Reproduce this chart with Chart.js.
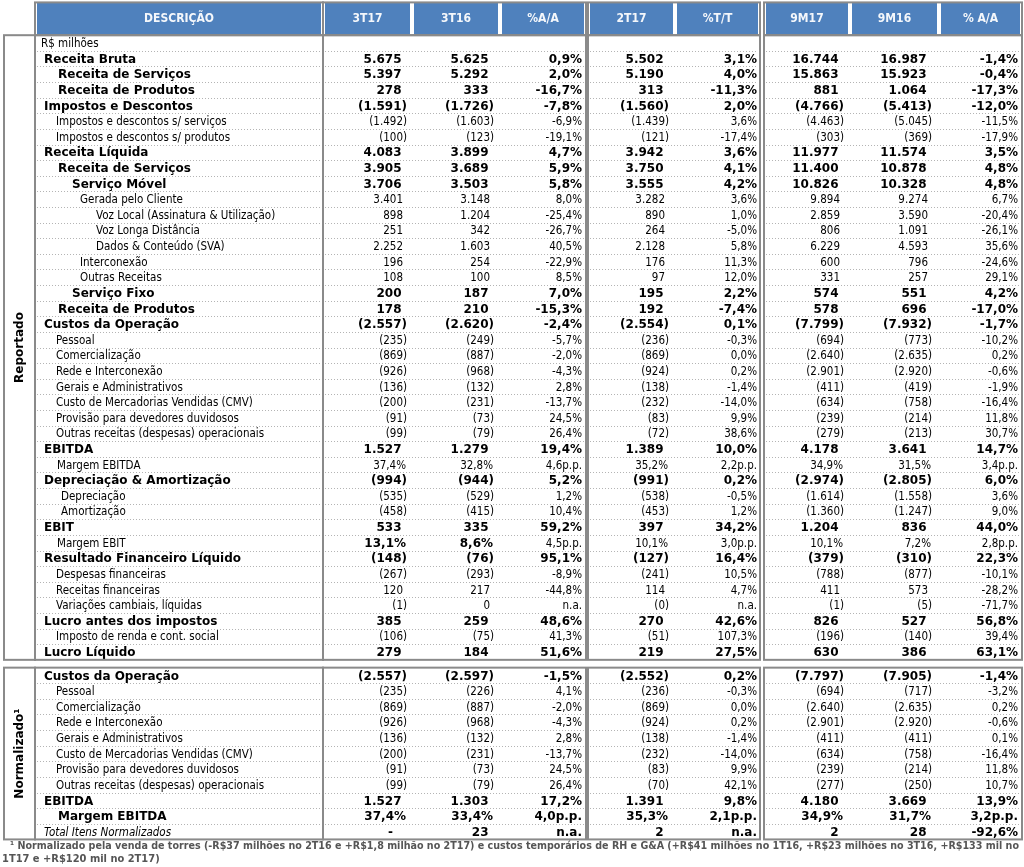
<!DOCTYPE html>
<html lang="pt-BR">
<head>
    <meta charset="UTF-8">
    <title>Demonstração de Resultados 3T17</title>
    <script src="https://cdn.jsdelivr.net/npm/chart.js"></script>
    <style>
        body { margin: 0; background: #fff; }
        .chart-wrapper { width: 1024px; height: 867px; }
        canvas { width: 1024px !important; height: 867px !important; }
    </style>
</head>
<body>
    <div class="chart-wrapper">
        <canvas id="tableChart" width="1024" height="867"></canvas>
    </div>

    <script>
        const columnTitles = ['3T17', '3T16', '%A/A', '2T17', '%T/T', '9M17', '9M16', '% A/A'];

        const reportedRows = [
            'R$ milhões', 'Receita Bruta', 'Receita de Serviços', 'Receita de Produtos',
            'Impostos e Descontos', 'Impostos e descontos s/ serviços', 'Impostos e descontos s/ produtos',
            'Receita Líquida', 'Receita de Serviços', 'Serviço Móvel', 'Gerada pelo Cliente',
            'Voz Local (Assinatura & Utilização)', 'Voz Longa Distância', 'Dados & Conteúdo (SVA)',
            'Interconexão', 'Outras Receitas', 'Serviço Fixo', 'Receita de Produtos',
            'Custos da Operação', 'Pessoal', 'Comercialização', 'Rede e Interconexão',
            'Gerais e Administrativos', 'Custo de Mercadorias Vendidas (CMV)',
            'Provisão para devedores duvidosos', 'Outras receitas (despesas) operacionais',
            'EBITDA', 'Margem EBITDA', 'Depreciação & Amortização', 'Depreciação', 'Amortização',
            'EBIT', 'Margem EBIT', 'Resultado Financeiro Líquido', 'Despesas financeiras',
            'Receitas financeiras', 'Variações cambiais, líquidas', 'Lucro antes dos impostos',
            'Imposto de renda e cont. social', 'Lucro Líquido'
        ];
        const reported3T17 = ['', '5.675', '5.397', '278', '(1.591)', '(1.492)', '(100)', '4.083', '3.905', '3.706', '3.401', '898', '251', '2.252', '196', '108', '200', '178', '(2.557)', '(235)', '(869)', '(926)', '(136)', '(200)', '(91)', '(99)', '1.527', '37,4%', '(994)', '(535)', '(458)', '533', '13,1%', '(148)', '(267)', '120', '(1)', '385', '(106)', '279'];
        const reported3T16 = ['', '5.625', '5.292', '333', '(1.726)', '(1.603)', '(123)', '3.899', '3.689', '3.503', '3.148', '1.204', '342', '1.603', '254', '100', '187', '210', '(2.620)', '(249)', '(887)', '(968)', '(132)', '(231)', '(73)', '(79)', '1.279', '32,8%', '(944)', '(529)', '(415)', '335', '8,6%', '(76)', '(293)', '217', '0', '259', '(75)', '184'];
        const reportedAA = ['', '0,9%', '2,0%', '-16,7%', '-7,8%', '-6,9%', '-19,1%', '4,7%', '5,9%', '5,8%', '8,0%', '-25,4%', '-26,7%', '40,5%', '-22,9%', '8,5%', '7,0%', '-15,3%', '-2,4%', '-5,7%', '-2,0%', '-4,3%', '2,8%', '-13,7%', '24,5%', '26,4%', '19,4%', '4,6p.p.', '5,2%', '1,2%', '10,4%', '59,2%', '4,5p.p.', '95,1%', '-8,9%', '-44,8%', 'n.a.', '48,6%', '41,3%', '51,6%'];
        const reported2T17 = ['', '5.502', '5.190', '313', '(1.560)', '(1.439)', '(121)', '3.942', '3.750', '3.555', '3.282', '890', '264', '2.128', '176', '97', '195', '192', '(2.554)', '(236)', '(869)', '(924)', '(138)', '(232)', '(83)', '(72)', '1.389', '35,2%', '(991)', '(538)', '(453)', '397', '10,1%', '(127)', '(241)', '114', '(0)', '270', '(51)', '219'];
        const reportedTT = ['', '3,1%', '4,0%', '-11,3%', '2,0%', '3,6%', '-17,4%', '3,6%', '4,1%', '4,2%', '3,6%', '1,0%', '-5,0%', '5,8%', '11,3%', '12,0%', '2,2%', '-7,4%', '0,1%', '-0,3%', '0,0%', '0,2%', '-1,4%', '-14,0%', '9,9%', '38,6%', '10,0%', '2,2p.p.', '0,2%', '-0,5%', '1,2%', '34,2%', '3,0p.p.', '16,4%', '10,5%', '4,7%', 'n.a.', '42,6%', '107,3%', '27,5%'];
        const reported9M17 = ['', '16.744', '15.863', '881', '(4.766)', '(4.463)', '(303)', '11.977', '11.400', '10.826', '9.894', '2.859', '806', '6.229', '600', '331', '574', '578', '(7.799)', '(694)', '(2.640)', '(2.901)', '(411)', '(634)', '(239)', '(279)', '4.178', '34,9%', '(2.974)', '(1.614)', '(1.360)', '1.204', '10,1%', '(379)', '(788)', '411', '(1)', '826', '(196)', '630'];
        const reported9M16 = ['', '16.987', '15.923', '1.064', '(5.413)', '(5.045)', '(369)', '11.574', '10.878', '10.328', '9.274', '3.590', '1.091', '4.593', '796', '257', '551', '696', '(7.932)', '(773)', '(2.635)', '(2.920)', '(419)', '(758)', '(214)', '(213)', '3.641', '31,5%', '(2.805)', '(1.558)', '(1.247)', '836', '7,2%', '(310)', '(877)', '573', '(5)', '527', '(140)', '386'];
        const reported9MAA = ['', '-1,4%', '-0,4%', '-17,3%', '-12,0%', '-11,5%', '-17,9%', '3,5%', '4,8%', '4,8%', '6,7%', '-20,4%', '-26,1%', '35,6%', '-24,6%', '29,1%', '4,2%', '-17,0%', '-1,7%', '-10,2%', '0,2%', '-0,6%', '-1,9%', '-16,4%', '11,8%', '30,7%', '14,7%', '3,4p.p.', '6,0%', '3,6%', '9,0%', '44,0%', '2,8p.p.', '22,3%', '-10,1%', '-28,2%', '-71,7%', '56,8%', '39,4%', '63,1%'];

        const normalizedRows = [
            'Custos da Operação', 'Pessoal', 'Comercialização', 'Rede e Interconexão',
            'Gerais e Administrativos', 'Custo de Mercadorias Vendidas (CMV)',
            'Provisão para devedores duvidosos', 'Outras receitas (despesas) operacionais',
            'EBITDA', 'Margem EBITDA', 'Total Itens Normalizados'
        ];
        const normalized3T17 = ['(2.557)', '(235)', '(869)', '(926)', '(136)', '(200)', '(91)', '(99)', '1.527', '37,4%', '-'];
        const normalized3T16 = ['(2.597)', '(226)', '(887)', '(968)', '(132)', '(231)', '(73)', '(79)', '1.303', '33,4%', '23'];
        const normalizedAA = ['-1,5%', '4,1%', '-2,0%', '-4,3%', '2,8%', '-13,7%', '24,5%', '26,4%', '17,2%', '4,0p.p.', 'n.a.'];
        const normalized2T17 = ['(2.552)', '(236)', '(869)', '(924)', '(138)', '(232)', '(83)', '(70)', '1.391', '35,3%', '2'];
        const normalizedTT = ['0,2%', '-0,3%', '0,0%', '0,2%', '-1,4%', '-14,0%', '9,9%', '42,1%', '9,8%', '2,1p.p.', 'n.a.'];
        const normalized9M17 = ['(7.797)', '(694)', '(2.640)', '(2.901)', '(411)', '(634)', '(239)', '(277)', '4.180', '34,9%', '2'];
        const normalized9M16 = ['(7.905)', '(717)', '(2.635)', '(2.920)', '(411)', '(758)', '(214)', '(250)', '3.669', '31,7%', '28'];
        const normalized9MAA = ['-1,4%', '-3,2%', '0,2%', '-0,6%', '0,1%', '-16,4%', '11,8%', '10,7%', '13,9%', '3,2p.p.', '-92,6%'];

        const footnoteLines = [
            '¹ Normalizado pela venda de torres (-R$37 milhões no 2T16 e +R$1,8 milhão no 2T17) e custos temporários de RH e G&A (+R$41 milhões no 1T16, +R$23 milhões no 3T16, +R$133 mil no',
            '1T17 e +R$120 mil no 2T17)'
        ];

        // ---- formatting (kept apart from the values) ----
        // row style: [indent px, n = normal, b = bold, i = italic label + bold values]
        const reportedStyle = [
            [41, 'n'], [44, 'b'], [58, 'b'], [58, 'b'], [44, 'b'], [56, 'n'], [56, 'n'],
            [44, 'b'], [58, 'b'], [72, 'b'], [80, 'n'], [96, 'n'], [96, 'n'], [96, 'n'],
            [80, 'n'], [80, 'n'], [72, 'b'], [58, 'b'], [44, 'b'], [56, 'n'], [56, 'n'], [56, 'n'],
            [56, 'n'], [56, 'n'], [56, 'n'], [56, 'n'], [44, 'b'], [57, 'n'], [44, 'b'], [61, 'n'], [61, 'n'],
            [44, 'b'], [57, 'n'], [44, 'b'], [56, 'n'], [56, 'n'], [56, 'n'], [44, 'b'], [56, 'n'], [44, 'b']
        ];
        const normalizedStyle = [
            [44, 'b'], [56, 'n'], [56, 'n'], [56, 'n'], [56, 'n'], [56, 'n'], [56, 'n'], [56, 'n'],
            [44, 'b'], [58, 'b'], [44, 'i']
        ];
        // single bold cells inside normal rows: 'row:col'
        const reportedBoldCells = ['32:0', '32:1'];

        const FONT_N = '11.5px "DejaVu Sans Condensed", "DejaVu Sans", sans-serif';
        const FONT_B = 'bold 12px "DejaVu Sans", sans-serif';
        const FONT_I = 'italic 11.5px "DejaVu Sans Condensed", "DejaVu Sans", sans-serif';
        const PITCH_ROWS = 55.52;           // rows visible in the canvas height
        const Y_MIN = -2.754;
        const NORMALIZED_OFFSET = 40.5;

        // column right edges (x scale units) and kinds
        const valueEdges = [407, 494, 582, 669, 757, 844, 932, 1018];
        const valueKinds = ['num', 'num', 'pct', 'num', 'pct', 'num', 'num', 'pct'];
        const headerCells = [[37, 321], [325, 410], [414, 498], [502, 584], [590, 673], [677, 758], [766, 848], [852, 937], [941, 1020]];
        const boxes = [[35, 323], [323, 586], [588, 760], [764, 1022]];

        const sections = [
            {
                title: 'Reportado', offset: 0, labels: reportedRows, styles: reportedStyle, bold: reportedBoldCells,
                columns: [reported3T17, reported3T16, reportedAA, reported2T17, reportedTT, reported9M17, reported9M16, reported9MAA],
                top: -0.5, bottom: 39.5
            },
            {
                title: 'Normalizado¹', offset: NORMALIZED_OFFSET, labels: normalizedRows, styles: normalizedStyle, bold: [],
                columns: [normalized3T17, normalized3T16, normalizedAA, normalized2T17, normalizedTT, normalized9M17, normalized9M16, normalized9MAA],
                top: NORMALIZED_OFFSET - 0.5, bottom: NORMALIZED_OFFSET + 10.5
            }
        ];

        const tablePlugin = {
            id: 'tablePlugin',
            afterDraw(chart) {
                const {ctx, scales: {x, y}} = chart;
                const px = v => x.getPixelForValue(v);
                const py = v => y.getPixelForValue(v);
                ctx.save();

                // header
                const hTop = py(-2.6), hBot = py(-0.5);
                ctx.fillStyle = '#4f81bd';
                headerCells.forEach(([l, r]) => ctx.fillRect(px(l), hTop, px(r) - px(l), hBot - hTop));
                ctx.fillStyle = '#f4f7fb';
                ctx.font = 'bold 12px "DejaVu Sans Condensed", "DejaVu Sans", sans-serif';
                ctx.textAlign = 'center';
                ctx.textBaseline = 'middle';
                const headerTitles = ['DESCRIÇÃO'].concat(columnTitles);
                headerCells.forEach(([l, r], i) => ctx.fillText(headerTitles[i], (px(l) + px(r)) / 2, py(-1.52)));
                ctx.strokeStyle = '#8a8a8a';
                ctx.lineWidth = 2;
                boxes.forEach(([l, r]) => ctx.strokeRect(px(l), hTop, px(r) - px(l), hBot - hTop));

                sections.forEach(sec => {
                    const top = py(sec.top), bot = py(sec.bottom);

                    // dotted row separators
                    ctx.save();
                    ctx.strokeStyle = '#b4b4b4';
                    ctx.lineWidth = 1;
                    ctx.setLineDash([1, 2]);
                    for (let i = 0; i < sec.labels.length - 1; i++) {
                        const yy = Math.round(py(sec.offset + i + 0.5)) + 0.5;
                        boxes.forEach(([l, r]) => {
                            ctx.beginPath();
                            ctx.moveTo(px(l) + 2, yy);
                            ctx.lineTo(px(r) - 2, yy);
                            ctx.stroke();
                        });
                    }
                    ctx.restore();

                    // texts
                    ctx.fillStyle = '#000';
                    ctx.textBaseline = 'middle';
                    sec.labels.forEach((label, i) => {
                        const [indent, w] = sec.styles[i];
                        const yy = py(sec.offset + i) + 1;
                        ctx.textAlign = 'left';
                        ctx.font = w === 'b' ? FONT_B : w === 'i' ? FONT_I : FONT_N;
                        ctx.fillText(label, px(indent), yy);

                        sec.columns.forEach((col, c) => {
                            const text = col[i];
                            if (!text) return;
                            const bold = w !== 'n' || sec.bold.includes(i + ':' + c);
                            ctx.font = bold ? FONT_B : FONT_N;
                            ctx.textAlign = 'right';
                            let edge = px(valueEdges[c]);
                            if (valueKinds[c] === 'num') {
                                if (text === '-') edge -= 14;
                                else if (text.endsWith('%')) edge -= 1;
                                else if (!text.endsWith(')')) edge -= ctx.measureText(')').width;
                            }
                            ctx.fillText(text, edge, yy);
                        });
                    });

                    // borders
                    ctx.strokeStyle = '#8a8a8a';
                    ctx.lineWidth = 2;
                    ctx.strokeRect(px(4), top, px(35) - px(4), bot - top);
                    boxes.forEach(([l, r]) => ctx.strokeRect(px(l), top, px(r) - px(l), bot - top));

                    // vertical section title
                    ctx.save();
                    ctx.translate(px(20), (top + bot) / 2);
                    ctx.rotate(-Math.PI / 2);
                    ctx.font = 'bold 12px "DejaVu Sans", sans-serif';
                    ctx.textAlign = 'center';
                    ctx.fillStyle = '#000';
                    ctx.fillText(sec.title, 0, 0);
                    ctx.restore();
                });

                // footnote
                ctx.fillStyle = '#555';
                ctx.font = 'bold 11px "DejaVu Sans Condensed", "DejaVu Sans", sans-serif';
                ctx.textAlign = 'left';
                ctx.fillText(footnoteLines[0], px(10), py(51.45), px(1019) - px(10));
                ctx.fillText(footnoteLines[1], px(2), py(52.28));

                ctx.restore();
            }
        };

        new Chart(document.getElementById('tableChart'), {
            type: 'scatter',
            data: { datasets: [] },
            options: {
                responsive: false,
                animation: false,
                devicePixelRatio: 1,
                layout: { padding: 0 },
                plugins: { legend: { display: false }, tooltip: { enabled: false } },
                scales: {
                    x: { type: 'linear', min: 0, max: 1024, display: false },
                    y: { type: 'linear', min: Y_MIN, max: Y_MIN + PITCH_ROWS, reverse: true, display: false }
                }
            },
            plugins: [tablePlugin]
        });
    </script>
</body>
</html>
